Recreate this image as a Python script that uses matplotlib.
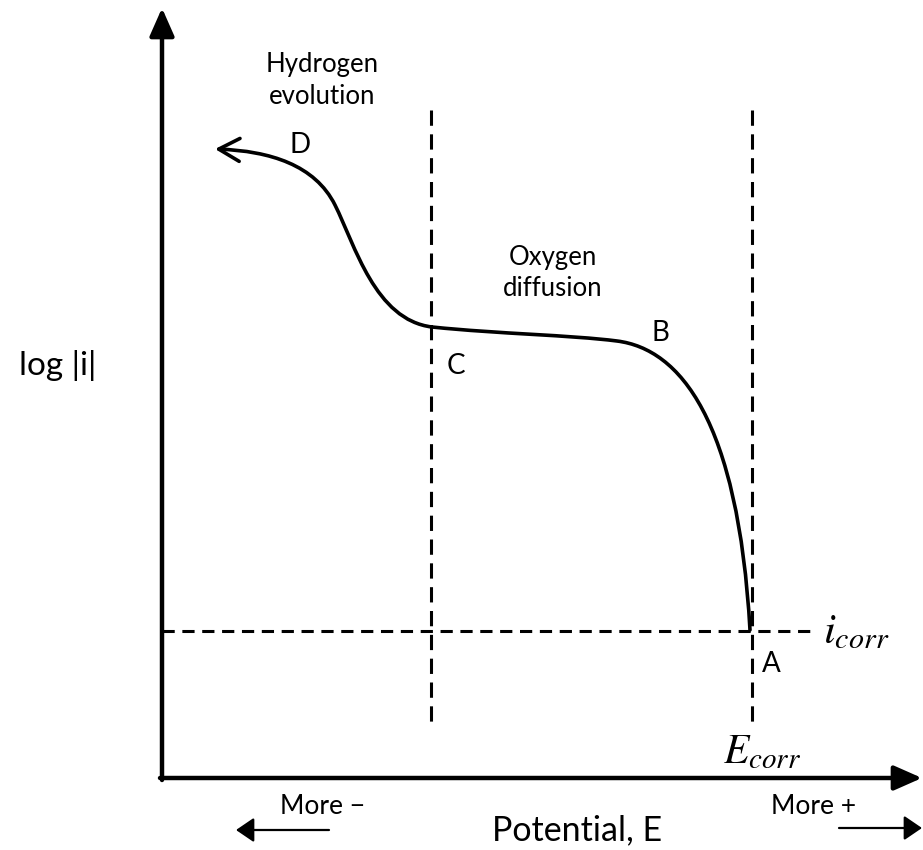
import matplotlib.pyplot as plt
from matplotlib.path import Path
from matplotlib.patches import FancyArrowPatch

plt.rcParams['font.family'] = ['Lato', 'DejaVu Sans']
plt.rcParams['mathtext.fontset'] = 'stix'

# polarisation curve, read off the picture as cubic Bezier pieces
# (pixel-like units, y grows downwards): start, then (ctrl1, ctrl2, end) per piece
curve_x = [215, 270, 315, 335, 355, 375, 432, 500, 570, 617, 680, 738, 750]
curve_y = [149, 151, 165, 205, 245, 320, 327, 334, 335, 341, 349, 420, 630]

# guide lines
e_limit_x = 431      # boundary between hydrogen evolution and oxygen diffusion
e_corr_x = 752
i_corr_y = 631
dash_top = 110
dash_bottom = 728

# axes
origin = (162, 778)
y_tip = (162, 8)
x_tip = (922, 778)

labels = {
    'D': (300, 145), 'C': (456, 366), 'B': (660, 333), 'A': (771, 664),
}

fig = plt.figure(figsize=(9.23, 8.5), dpi=100)
ax = fig.add_axes([0, 0, 1, 1])
ax.set_xlim(0, 923)
ax.set_ylim(850, 0)
ax.axis('off')

# axes arrows
ax.annotate('', xy=y_tip, xytext=(origin[0], origin[1] + 2),
            arrowprops=dict(arrowstyle='-|>,head_length=1.7,head_width=0.75',
                            lw=3.2, color='black', shrinkA=0, shrinkB=0))
ax.annotate('', xy=x_tip, xytext=(origin[0] - 2, origin[1]),
            arrowprops=dict(arrowstyle='-|>,head_length=1.7,head_width=0.75',
                            lw=3.2, color='black', shrinkA=0, shrinkB=0))

# dashed guides
ax.plot([e_limit_x, e_limit_x], [dash_top, dash_bottom], color='black', lw=2.2, dashes=(5, 2.8))
ax.plot([e_corr_x, e_corr_x], [dash_top, dash_bottom], color='black', lw=2.2, dashes=(5, 2.8))
ax.plot([origin[0], 815], [i_corr_y, i_corr_y], color='black', lw=2.2, dashes=(4, 2.5))

# curve with arrow head at the hydrogen end
verts = list(zip(curve_x, curve_y))
codes = [Path.MOVETO] + [Path.CURVE4] * (len(verts) - 1)
curve = FancyArrowPatch(path=Path(verts, codes), arrowstyle='<-,head_length=1.0,head_width=0.55',
                        mutation_scale=15, lw=2.6, color='black', shrinkA=0, shrinkB=0,
                        capstyle='round')
ax.add_patch(curve)

for k, (x, y) in labels.items():
    ax.text(x, y, k, fontsize=20, ha='center', va='center')

ax.text(322, 80, 'Hydrogen\nevolution', fontsize=18.5, ha='center', va='center', linespacing=1.35)
ax.text(553, 273, 'Oxygen\ndiffusion', fontsize=18.5, ha='center', va='center', linespacing=1.35)

ax.text(58, 365, 'log |i|', fontsize=24, ha='center', va='center')
ax.text(577, 830, 'Potential, E', fontsize=24.5, ha='center', va='center')

ax.text(823, 632, r'$i_{corr}$', fontsize=31, ha='left', va='center')
ax.text(762, 752, r'$E_{corr}$', fontsize=30, ha='center', va='center')

ax.text(323, 806, 'More \u2212', fontsize=19, ha='center', va='center')
ax.text(814, 806, 'More +', fontsize=19, ha='center', va='center')
ax.annotate('', xy=(236, 830), xytext=(329, 830),
            arrowprops=dict(arrowstyle='-|>,head_length=1.1,head_width=0.75',
                            lw=1.6, color='black', shrinkA=0, shrinkB=0))
ax.annotate('', xy=(922, 828), xytext=(839, 828),
            arrowprops=dict(arrowstyle='-|>,head_length=1.1,head_width=0.75',
                            lw=1.6, color='black', shrinkA=0, shrinkB=0))

fig.savefig('out.png', dpi=100)
